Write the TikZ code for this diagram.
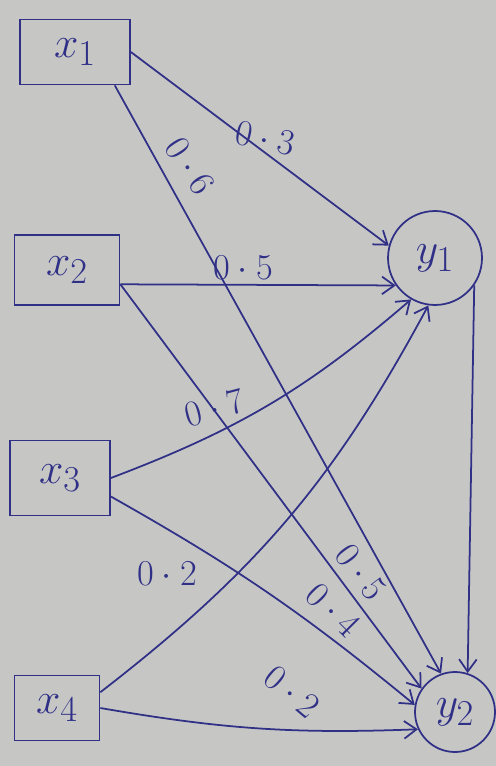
\documentclass[tikz,border=0pt]{standalone}
\usepackage{tikz}
\usetikzlibrary{arrows.meta}
\definecolor{inkblue}{RGB}{48,48,135}
\definecolor{papergray}{RGB}{198,199,197}

\begin{document}
\begin{tikzpicture}[x=0.02cm,y=-0.02cm,
    every node/.style={font=\Huge,text=inkblue},
    xbox/.style={draw=inkblue,line width=1pt,inner sep=0pt},
    ycirc/.style={draw=inkblue,line width=1pt,circle,inner sep=0pt},
    wlbl/.style={font=\huge,inner sep=1pt},
    wire/.style={draw=inkblue,line width=1pt,-{Straight Barb[length=7pt,width=10pt]}}]
        \fill[papergray] (0,0) rectangle (496,766);
        \useasboundingbox (0,0) rectangle (496,766);
        \node[xbox,minimum width=2.2cm,minimum height=1.3cm] (x1) at (75,52) {$x_1$};
        \node[xbox,minimum width=2.1cm,minimum height=1.4cm] (x2) at (67,270) {$x_2$};
        \node[xbox,minimum width=2.0cm,minimum height=1.5cm] (x3) at (60,478) {$x_3$};
        \node[xbox,minimum width=1.7cm,minimum height=1.3cm] (x4) at (57,708) {$x_4$};
        \node[ycirc,minimum size=1.88cm] (y1) at (435,258) {$y_1$};
        \node[ycirc,minimum size=1.6cm] (y2) at (455,712) {$y_2$};
        \draw[wire] (x1.east) -- (y1.165);
        \draw[wire] (x1.-40) -- (y2.110);
        \draw[wire] (x2.-15) -- (y1.215);
        \draw[wire] (x2.-15) -- (y2.145);
        \draw[wire] (x3.east) to[bend right=10] (y1.240);
        \draw[wire] (x3.-20) to[bend left=5] (y2.170);
        \draw[wire] (x4.20) to[bend right=12] (y1.262);
        \draw[wire] (x4.east) to[bend right=6] (y2.205);
        \draw[wire] (y1.-35) -- (y2.72);
        \node[wlbl,rotate=-12] (w11) at (265,138) {$0\cdot3$};
        \node[wlbl,rotate=-57] (w12) at (190,166) {$0\cdot6$};
        \node[wlbl] (w21) at (243,268) {$0\cdot5$};
        \node[wlbl,rotate=-53] (w22) at (361,572) {$0\cdot5$};
        \node[wlbl,rotate=15] (w31) at (214,408) {$0\cdot7$};
        \node[wlbl,rotate=-45] (w32) at (333,610) {$0\cdot4$};
        \node[wlbl] (w41) at (167,574) {$0\cdot2$};
        \node[wlbl,rotate=-40] (w42) at (292,692) {$0\cdot2$};
      \end{tikzpicture}
\end{document}
